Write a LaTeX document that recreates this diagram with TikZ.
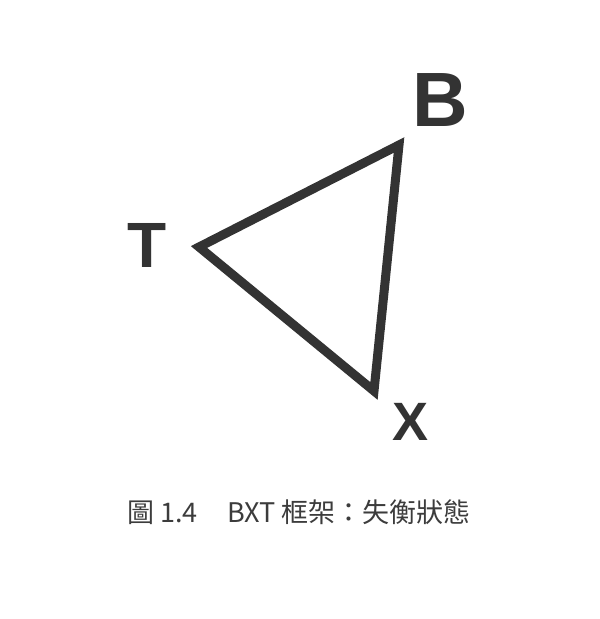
\documentclass[tikz,border=0pt]{standalone}
\usepackage{fontspec}
\setmainfont{Liberation Sans}
\newfontfamily\cjkfont{Noto Sans CJK TC}
\definecolor{ink}{HTML}{333333}
\definecolor{capink}{HTML}{3C3C3C}
\begin{document}
\begin{tikzpicture}[x=1pt,y=-1pt,
  lbl/.style={inner sep=0pt,text=ink,font=\bfseries},
  edge/.style={draw=ink,line width=9pt,line join=miter}]
\useasboundingbox (0,0) rectangle (600,619);
\coordinate (vB) at (399,145);
\coordinate (vT) at (199,247);
\coordinate (vX) at (374,391);
\draw[edge] (vB) -- (vT) -- (vX) -- cycle;
\node[lbl,font=\bfseries\fontsize{77}{77}\selectfont] (B) at (440,100) {B};
\node[lbl,font=\bfseries\fontsize{64}{64}\selectfont] (T) at (147,245) {T};
\node[lbl,font=\bfseries\fontsize{54}{54}\selectfont] (X) at (411,422) {X};
\node[inner sep=0pt,anchor=base,text=capink,font=\cjkfont\fontsize{27}{27}\selectfont] (cap) at (299,522)
  {圖 1.4\hspace{1.1em}BXT 框架：失衡狀態};
\end{tikzpicture}
\end{document}
